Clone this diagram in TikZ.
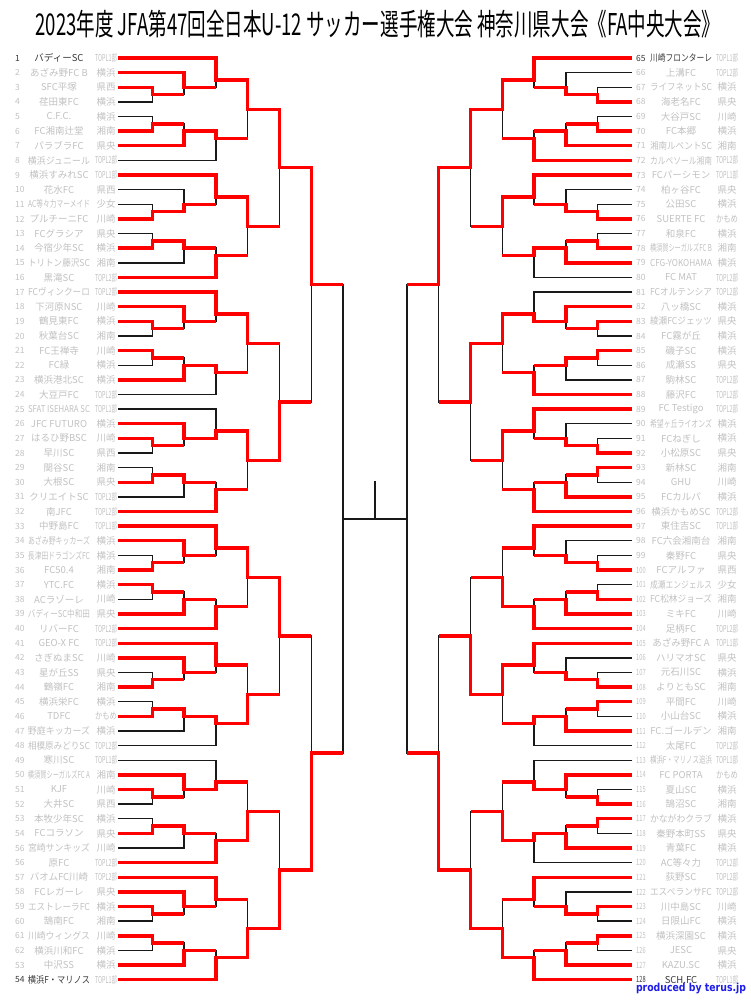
\documentclass[tikz,border=0pt]{standalone}
\usepackage{fontspec}
\setmainfont{Noto Sans CJK JP}
\newfontfamily\creditfont{DejaVu Sans}

\definecolor{faint}{HTML}{C2C2C2}
\definecolor{seed}{HTML}{3A3A3A}
\definecolor{winred}{HTML}{FF0000}
\definecolor{credit}{HTML}{1E1EE8}

% squeeze a text to a width if it is wider
\newsavebox\fitbox
\newcommand\fitto[2]{\sbox\fitbox{#2}\ifdim\wd\fitbox>#1\resizebox{#1}{\height}{\usebox\fitbox}\else\usebox\fitbox\fi}

% row / label / team / area / wins
\def\leftteams{1/1/バディーSC/TOPL1部/4, 2/2/あざみ野FC B/横浜/1, 3/3/SFC平塚/県西/1, 4/4/荏田東FC/横浜/0,
5/5/C.F.C./横浜/0, 6/6/FC湘南辻堂/湘南/1, 7/7/パラブラFC/県央/2, 8/8/横浜ジュニール/TOPL2部/0,
9/9/横浜すみれSC/TOPL1部/2, 10/10/花水FC/県西/0, 11/11/AC等々力マーメイド/少女/0, 12/12/プルチーニFC/川崎/2,
13/13/FCグラシア/県央/0, 14/14/今宿少年SC/横浜/2, 15/15/トリトン藤沢SC/湘南/0, 16/16/黒滝SC/TOPL2部/1,
17/17/FCヴィンクーロ/TOPL2部/2, 18/18/下河原NSC/川崎/1, 19/19/鶴見東FC/横浜/1, 20/20/秋葉台SC/湘南/0,
21/21/FC王禅寺/川崎/1, 22/22/FC緑/横浜/0, 23/23/横浜港北SC/横浜/2, 24/24/大豆戸FC/TOPL2部/0,
25/25/SFAT ISEHARA SC/TOPL1部/0, 26/26/JFC FUTURO/横浜/4, 27/27/はるひ野BSC/川崎/1, 28/28/早川SC/県西/0,
29/29/関谷SC/湘南/0, 30/30/大根SC/県央/2, 31/31/クリエイトSC/TOPL2部/0, 32/32/南JFC/TOPL2部/1,
33/33/中野島FC/TOPL1部/3, 34/34/あざみ野キッカーズ/横浜/1, 35/35/長津田ドラゴンズFC/横浜/0, 36/36/FC50.4/湘南/1,
37/37/YTC.FC/横浜/1, 38/38/ACラゾーレ/川崎/0, 39/39/バディーSC中和田/県央/1, 40/40/リバーFC/TOPL2部/1,
41/41/GEO-X FC/TOPL2部/1, 42/42/さぎぬまSC/川崎/1, 43/43/星が丘SS/県央/0, 44/44/鶴嶺FC/湘南/1,
45/45/横浜栄FC/横浜/0, 46/46/TDFC/かもめ/4, 47/47/野庭キッカーズ/横浜/0, 48/48/相模原みどりSC/TOPL2部/0,
49/49/寒川SC/TOPL1部/0, 50/50/横須賀シーガルズFC A/湘南/2, 51/51/KJF/川崎/1, 52/52/大井SC/県西/0,
53/53/本牧少年SC/横浜/0, 54/54/FCコラソン/県央/2, 55/56/宮崎サンキッズ/川崎/0, 56/56/原FC/TOPL2部/2,
57/57/バオムFC川崎/TOPL2部/1, 58/58/FCレガーレ/県央/1, 59/59/エストレーラFC/横浜/1, 60/60/鵠南FC/湘南/0,
61/61/川崎ウィングス/川崎/1, 62/62/横浜川和FC/横浜/0, 63/53/中沢SS/横浜/1, 64/54/横浜F・マリノス/TOPL1部/4}

\def\rightteams{1/65/川崎フロンターレ/TOPL1部/4, 2/66/上溝FC/TOPL2部/0, 3/67/ライフネットSC/横浜/0, 4/68/海老名FC/県央/2,
5/69/大谷戸SC/川崎/0, 6/70/FC本郷/横浜/1, 7/71/湘南ルベントSC/湘南/1, 8/72/カルペソール湘南/TOPL2部/1,
9/73/FCパーシモン/TOPL1部/2, 10/74/柏ヶ谷FC/県央/0, 11/75/公田SC/横浜/0, 12/76/SUERTE FC/かもめ/2,
13/77/和泉FC/横浜/0, 14/78/横須賀シーガルズFC B/湘南/1, 15/79/CFG-YOKOHAMA/横浜/2, 16/80/FC MAT/TOPL2部/0,
17/81/FCオルテンシア/TOPL2部/0, 18/82/八ッ橋SC/横浜/4, 19/83/綾瀬FCジェッツ/県央/1, 20/84/FC霧が丘/横浜/0,
21/85/磯子SC/横浜/2, 22/86/成瀬SS/県央/0, 23/87/駒林SC/TOPL2部/0, 24/88/藤沢FC/TOPL2部/1,
25/89/FC Testigo/TOPL2部/2, 26/90/希望ヶ丘ライオンズ/横浜/0, 27/91/FCねぎし/横浜/0, 28/92/小松原SC/県央/2,
29/93/新林SC/湘南/1, 30/94/GHU/川崎/0, 31/95/FCカルパ/横浜/1, 32/96/横浜かもめSC/TOPL2部/1,
33/97/東住吉SC/TOPL1部/1, 34/98/FC六会湘南台/湘南/0, 35/99/秦野FC/県央/0, 36/100/FCアルファ/県西/2,
37/101/成瀬エンジェルス/少女/0, 38/102/FC松林ジョーズ/湘南/1, 39/103/ミキFC/川崎/1, 40/104/足柄FC/TOPL2部/2,
41/105/あざみ野FC A/TOPL1部/3, 42/106/ハリマオSC/県央/0, 43/107/元石川SC/横浜/0, 44/108/よりともSC/湘南/2,
45/109/平間FC/川崎/1, 46/110/小山台SC/横浜/0, 47/111/FC.ゴールデン/湘南/2, 48/112/太尾FC/TOPL2部/0,
49/113/横浜F・マリノス追浜/TOPL1部/0, 50/114/FC PORTA/かもめ/2, 51/115/夏山SC/横浜/0, 52/116/鵠沼SC/湘南/1,
53/117/かながわクラブ/横浜/1, 54/118/秦野本町SS/県央/0, 55/119/青葉FC/横浜/3, 56/120/AC等々力/TOPL2部/0,
57/121/荻野SC/TOPL2部/1, 58/122/エスペランサFC/TOPL2部/0, 59/123/川中島SC/川崎/2, 60/124/日限山FC/横浜/0,
61/125/横浜深園SC/横浜/1, 62/126/JESC/県央/0, 63/127/KAZU.SC/横浜/1, 64/128/SCH.FC/TOPL1部/4}

\begin{document}
\begin{tikzpicture}[x=1pt,y=-1pt,
  base line/.style={line width=1.4pt,black!90},
  win line/.style={line width=3.4pt,winred},
  team num/.style={anchor=west,inner sep=0pt,font=\fontsize{8.5}{9}\selectfont},
  team name/.style={inner sep=0pt,font=\fontsize{9.5}{10}\selectfont},
  team area/.style={inner sep=0pt,text=faint,font=\fontsize{9.5}{10}\selectfont},
  declare function={
    ry(\rw)=58+(\rw-1)*14.63;
    lx(\lv)=120.5+31.8*\lv;
    gb(\rw)=mod(floor((\rw-1)/4),2);
    fl(\rw)=max(1,(gb(\rw)==1 ? mod(\rw-1,4) : 3-mod(\rw-1,4)));
    oy(\rw,\lv)=58+14.63*(\lv==1 ? 4*floor((\rw-1)/4)+(gb(\rw)==1 ? 0.5 : 2.5) : (\lv==2 ? 4*floor((\rw-1)/4)+(gb(\rw)==1 ? 1 : 2) : 2^(\lv-1)*floor((\rw-1)/2^(\lv-1))+(2^(\lv-1)-1)/2));
  }]
\fill[white] (0,0) rectangle (750,1000);
\useasboundingbox (0,0) rectangle (750,1000);

\node (title) at (378,24) {\resizebox{685pt}{\height}{\fontsize{30}{30}\selectfont 2023年度 JFA第47回全日本U-12 サッカー選手権大会 神奈川県大会《FA中央大会》}};

% left half
\foreach \nn/\lab/\tname/\tarea/\w in \leftteams {
  \ifnum\nn=1 \def\tc{seed}\else\ifnum\nn=64 \def\tc{seed}\else\def\tc{faint}\fi\fi
  \node[team num,text=\tc] (ln\nn) at (15,{ry(\nn)}) {\fitto{9.5pt}{\lab}};
  \node[team name,text=\tc] (lt\nn) at (59,{ry(\nn)}) {\fitto{62pt}{\tname}};
  \node[team area] (la\nn) at (106,{ry(\nn)}) {\fitto{22pt}{\tarea}};
  \pgfmathtruncatemacro\first{fl(\nn)}
  \draw[base line] (118,{ry(\nn)}) -- ({lx(\first)},{ry(\nn)})
    \foreach \kk in {\first,...,7} {-- ({lx(\kk)},{oy(\nn,\kk)}) -- ({lx(\kk+1)},{oy(\nn,\kk)})};
}

% right half
\foreach \nn/\lab/\tname/\tarea/\w in \rightteams {
  \ifnum\nn=1 \def\tc{seed}\else\ifnum\nn=64 \def\tc{seed}\else\def\tc{faint}\fi\fi
  \node[team num,text=\tc] (rn\nn) at (636,{ry(\nn)}) {\fitto{9.5pt}{\lab}};
  \node[team name,text=\tc] (rt\nn) at (681,{ry(\nn)}) {\fitto{62pt}{\tname}};
  \node[team area] (ra\nn) at (727,{ry(\nn)}) {\fitto{22pt}{\tarea}};
  \pgfmathtruncatemacro\first{fl(\nn)}
  \begin{scope}[xshift=750pt,xscale=-1]
  \draw[base line] (118,{ry(\nn)}) -- ({lx(\first)},{ry(\nn)})
    \foreach \kk in {\first,...,7} {-- ({lx(\kk)},{oy(\nn,\kk)}) -- ({lx(\kk+1)},{oy(\nn,\kk)})};
  \end{scope}
}

% final
\coordinate (final) at (375,{oy(1,7)});
\coordinate (cup) at (375,481);
\draw[base line] (final) -- (cup);

% winners in red
\foreach \nn/\lab/\tname/\tarea/\w in \leftteams {
  \ifnum\w>0
  \pgfmathtruncatemacro\first{fl(\nn)}
  \pgfmathtruncatemacro\lastk{\first+\w-1}
  \draw[win line] (118,{ry(\nn)}) -- ({lx(\first)},{ry(\nn)})
    \foreach \kk in {\first,...,\lastk} {-- ({lx(\kk)},{oy(\nn,\kk)}) -- ({lx(\kk+1)},{oy(\nn,\kk)})};
  \fi
}
\begin{scope}[xshift=750pt,xscale=-1]
\foreach \nn/\lab/\tname/\tarea/\w in \rightteams {
  \ifnum\w>0
  \pgfmathtruncatemacro\first{fl(\nn)}
  \pgfmathtruncatemacro\lastk{\first+\w-1}
  \draw[win line] (118,{ry(\nn)}) -- ({lx(\first)},{ry(\nn)})
    \foreach \kk in {\first,...,\lastk} {-- ({lx(\kk)},{oy(\nn,\kk)}) -- ({lx(\kk+1)},{oy(\nn,\kk)})};
  \fi
}
\end{scope}

\node[text=credit] (maker) at (691,988) {\resizebox{110pt}{\height}{\creditfont\bfseries\fontsize{11}{11}\selectfont produced by terus.jp}};
\end{tikzpicture}
\end{document}
